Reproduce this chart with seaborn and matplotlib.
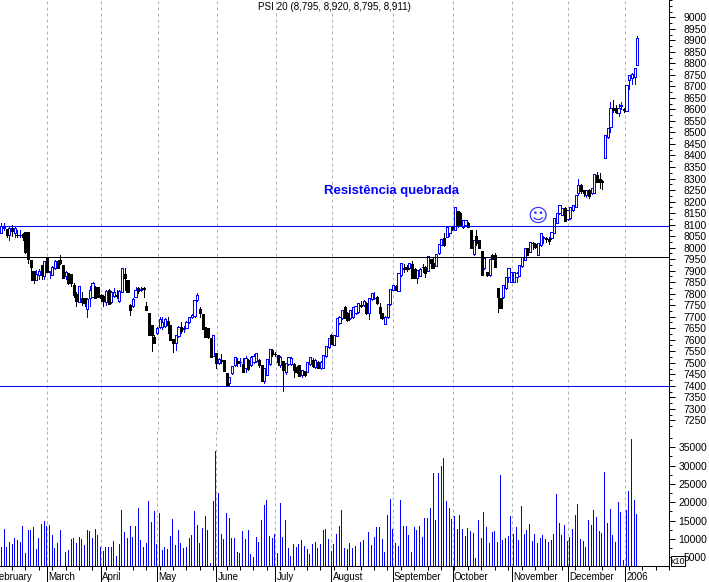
import numpy as np
import pandas as pd
import matplotlib
matplotlib.use("Agg")
import matplotlib.pyplot as plt
from matplotlib.patches import Rectangle
import seaborn as sns

opens = [8062,8085,8079,8053,8084,8062,8056,8054,8060,8066,
8066,7946,7898,7860,7880,7924,7877,7953,7893,7881,
7910,7942,7946,7924,7875,7888,7885,7838,7800,7765,
7780,7780,7733,7780,7787,7830,7830,7794,7790,7765,
7816,7765,7790,7795,7770,7809,7885,7860,7750,7745,
7787,7825,7818,7825,7746,7714,7664,7610,7630,7654,
7657,7660,7682,7664,7605,7587,7616,7655,7645,7652,
7675,7697,7703,7772,7735,7712,7655,7650,7606,7529,
7541,7498,7510,7512,7454,7413,7457,7490,7506,7505,
7494,7476,7512,7490,7505,7509,7510,7490,7422,7447,
7495,7554,7540,7533,7490,7509,7461,7495,7495,7495,
7480,7490,7447,7462,7461,7495,7512,7483,7505,7478,
7476,7529,7570,7620,7577,7618,7671,7693,7741,7715,
7695,7700,7715,7722,7750,7752,7758,7715,7775,7780,
7786,7743,7715,7668,7697,7755,7816,7833,7813,7881,
7910,7915,7910,7928,7905,7866,7878,7917,7915,7900,
7950,7932,7920,7975,8012,8040,8047,8065,8088,8077,
8160,8149,8091,8098,8108,8077,7972,8050,8033,7987,
7910,7896,7881,7968,7968,7823,7780,7784,7824,7874,
7852,7852,7872,7877,7918,7946,7997,7983,8020,8016,
7968,8011,8040,8040,8036,8040,8065,8108,8149,8142,
8170,8123,8127,8163,8178,8236,8272,8250,8228,8250,
8235,8238,8315,8300,8290,8388,8482,8525,8605,8605,
8585,8615,8600,8595,8728,8735,8742,8795]

highs = [8108,8105,8079,8095,8098,8090,8076,8075,8065,8066,
8066,7946,7898,7903,7905,7924,7942,7953,7900,7918,
7948,7948,7968,7924,7897,7888,7885,7845,7808,7835,
7808,7782,7780,7833,7850,7835,7830,7800,7795,7815,
7822,7810,7825,7815,7815,7912,7912,7860,7755,7780,
7830,7828,7830,7828,7762,7714,7664,7620,7655,7697,
7697,7695,7697,7664,7605,7620,7660,7675,7660,7680,
7700,7712,7772,7805,7740,7712,7655,7650,7606,7620,
7541,7520,7540,7512,7454,7440,7486,7526,7520,7520,
7520,7530,7515,7530,7540,7541,7515,7490,7476,7515,
7560,7560,7545,7535,7530,7509,7497,7523,7523,7497,
7485,7490,7468,7465,7503,7526,7520,7516,7508,7508,
7533,7573,7606,7625,7620,7694,7703,7729,7745,7720,
7730,7742,7746,7761,7768,7772,7762,7780,7801,7808,
7788,7758,7716,7703,7755,7819,7838,7836,7888,7931,
7930,7925,7935,7940,7910,7903,7910,7930,7920,7964,
7950,7955,7971,8016,8036,8062,8091,8094,8092,8178,
8160,8155,8120,8120,8110,8077,8033,8075,8035,7987,
7955,7896,7950,7972,7978,7823,7780,7838,7871,7910,
7895,7895,7895,7925,7958,7997,8000,8026,8024,8020,
8022,8062,8050,8045,8046,8069,8127,8149,8185,8170,
8175,8163,8175,8185,8228,8297,8275,8252,8250,8255,
8258,8320,8330,8322,8292,8489,8520,8634,8640,8620,
8622,8632,8605,8706,8750,8760,8778,8920]

lows = [8062,8075,8045,8035,8050,8045,8045,8045,8033,7975,
7935,7860,7848,7860,7862,7862,7862,7895,7866,7881,
7905,7912,7930,7870,7865,7840,7833,7787,7745,7762,
7750,7745,7700,7745,7785,7780,7785,7770,7745,7750,
7753,7760,7785,7780,7765,7809,7815,7809,7707,7740,
7785,7805,7810,7785,7729,7620,7552,7584,7625,7650,
7645,7655,7630,7599,7548,7555,7612,7628,7635,7650,
7672,7695,7700,7768,7697,7646,7612,7607,7526,7529,
7476,7495,7500,7466,7400,7403,7450,7488,7485,7488,
7461,7461,7469,7488,7500,7505,7480,7420,7411,7445,
7490,7530,7530,7490,7480,7379,7450,7490,7490,7440,
7455,7444,7440,7444,7458,7490,7480,7478,7476,7475,
7476,7525,7565,7581,7575,7615,7668,7690,7693,7682,
7690,7695,7712,7718,7740,7745,7713,7692,7772,7775,
7755,7693,7690,7668,7695,7752,7814,7816,7810,7878,
7895,7900,7905,7866,7866,7848,7875,7895,7874,7897,
7910,7910,7918,7972,8010,8007,8045,8050,8075,8077,
8090,8094,8085,8095,8088,7997,7970,8010,7997,7881,
7905,7875,7878,7950,7915,7722,7738,7782,7822,7850,
7850,7850,7850,7875,7915,7944,7968,7980,7995,8000,
7968,8008,8020,8025,8016,8038,8062,8105,8145,8140,
8117,8120,8125,8160,8175,8230,8236,8225,8220,8215,
8233,8235,8286,8258,8253,8388,8478,8500,8590,8585,
8570,8603,8590,8595,8690,8710,8712,8795]

closes = [8094,8090,8053,8084,8073,8084,8054,8054,8045,7980,
7950,7917,7860,7885,7900,7880,7942,7895,7898,7917,
7942,7912,7935,7870,7895,7848,7845,7794,7770,7833,
7765,7760,7777,7818,7848,7783,7787,7783,7770,7813,
7755,7807,7808,7790,7810,7910,7866,7809,7730,7775,
7816,7812,7822,7820,7729,7620,7620,7584,7652,7690,
7678,7692,7664,7599,7587,7620,7656,7640,7650,7678,
7698,7708,7772,7794,7715,7646,7612,7610,7526,7620,
7498,7515,7508,7466,7400,7440,7486,7526,7500,7505,
7461,7519,7475,7526,7530,7541,7490,7422,7476,7515,
7558,7540,7538,7505,7526,7468,7497,7523,7520,7468,
7460,7444,7468,7445,7503,7526,7485,7512,7476,7505,
7533,7573,7606,7581,7620,7694,7700,7729,7693,7686,
7728,7740,7746,7761,7748,7770,7715,7780,7801,7782,
7758,7717,7695,7700,7755,7819,7836,7816,7888,7931,
7908,7905,7931,7866,7866,7903,7905,7915,7890,7964,
7935,7910,7971,8016,8036,8010,8091,8094,8080,8178,
8092,8094,8120,8120,8088,7997,8033,8018,7997,7881,
7955,7882,7950,7950,7915,7787,7738,7838,7871,7910,
7893,7892,7890,7925,7958,7997,7968,8026,8018,8002,
8022,8062,8048,8036,8030,8069,8127,8149,8185,8170,
8117,8163,8175,8185,8228,8272,8245,8235,8250,8225,
8258,8320,8286,8285,8286,8489,8518,8605,8598,8590,
8605,8620,8596,8706,8750,8755,8778,8911]

volumes = [7900,12700,7900,9300,8600,10300,9700,9300,13500,6200,
12500,12500,13300,7300,10300,14100,14900,13500,13800,11100,
7500,8900,12500,11100,6500,7000,10000,10300,8900,10500,
10000,8400,12500,12200,10300,12700,11100,7800,6700,7800,
7800,7800,9500,5400,8600,17900,11900,10300,13500,10500,
13500,18500,9700,7800,8900,20400,14600,17600,8600,17100,
7000,7800,7300,10800,15500,8400,12500,8900,7500,7800,
10300,11100,17600,13800,8900,13000,16300,12500,3400,20400,
34000,22600,11400,10000,17100,15700,10300,10300,6500,
6200,12200,10000,12500,5900,5100,10500,9200,15200,19300,
20600,10800,10300,11400,6200,19800,10500,15200,7500,5400,
8600,7800,8600,9700,8100,7300,5900,8600,9200,7500,
8600,12500,12700,10000,6700,8600,11400,13500,17900,7500,
7300,8900,7500,8100,0,9200,9700,11600,11900,8400,
10500,13300,13300,10000,6500,16600,20900,12700,8900,8100,
20600,13500,13500,11100,6500,13300,12500,13500,10500,15700,
15700,18500,28000,15200,28000,29900,32100,20400,18500,15500,
16300,12700,16600,12700,10800,13000,
12200,11600,4800,15200,10300,17400,13300,8900,11900,12200,
9200,27500,9700,10300,10800,16300,11400,13300,9700,19000,
11400,12500,14100,9500,11400,8900,10300,11100,10000,9200,
9700,11400,22300,14400,11100,13800,9500,10500,12700,16600,
19600,10000,9500,7800,15200,13800,17900,16000,12200,11600,
28300,14400,18200,11100,9200,20100,17400,4300,17900,23100,
37300,20600,16800]

month_names = ["February", "March", "April", "May", "June", "July", "August",
               "September", "October", "November", "December", "2006"]
month_starts = [-5.0, 17.15, 37.2, 58.2, 80.2, 102.2, 123.1, 145.9, 168.3, 190.3, 211.2, 232.5]
resistance_levels = [8093, 7397]
support_level = 7958
price_labels = list(range(7250, 9001, 50))
volume_labels = list(range(5000, 35001, 5000))

W, H = 709, 582
STEP = 2.6834
sns.set_theme(style="white")
plt.rcParams["font.family"] = ["Liberation Sans", "DejaVu Sans"]
plt.rcParams["axes.linewidth"] = 0.72

fig = plt.figure(figsize=(W / 100, H / 100), dpi=100, facecolor="white")
AX_R = 669
ax_p = fig.add_axes([0, 1 - 430 / H, AX_R / W, 430 / H])
ax_v = fig.add_axes([0, 1 - 566 / H, AX_R / W, 136 / H])

days = np.arange(len(closes))
xlim = (-1.33 / STEP, (AX_R - 1.33) / STEP)
BLUE = "#0000ff"

# volume
frame = pd.DataFrame({"day": days, "volume": volumes})
sns.barplot(data=frame, x="day", y="volume", native_scale=True, color=BLUE,
            saturation=1, width=0.37, linewidth=0, antialiased=False, ax=ax_v, zorder=3)

# candles
o, h, l, c = map(np.array, (opens, highs, lows, closes))
up = c >= o
for mask, col, face in ((up, BLUE, "white"), (~up, "black", "black")):
    ax_p.vlines(days[mask], l[mask], h[mask], color=col, lw=0.72, antialiased=False, zorder=3)
    ax_p.bar(days[mask], np.abs(c - o)[mask], bottom=np.minimum(o, c)[mask], width=0.8,
             facecolor=face, edgecolor=col, linewidth=0.72, antialiased=False, zorder=4)

for lv in resistance_levels:
    ax_p.axhline(lv, color=BLUE, lw=0.72, antialiased=False, zorder=5)
ax_p.axhline(support_level, color="black", lw=0.72, antialiased=False, zorder=5)

for ax in (ax_p, ax_v):
    ax.vlines(month_starts[1:], 0, 1, transform=ax.get_xaxis_transform(), color="#b0b0b0",
              lw=0.72, linestyles=(0, (3, 3)), zorder=0.5)
    ax.set_xlim(*xlim)
    ax.set_xlabel("")
    ax.set_ylabel("")
    ax.set_facecolor("none")
    ax.yaxis.tick_right()
    for s in ("top", "left", "bottom"):
        ax.spines[s].set_visible(False)
    ax.spines["right"].set_visible(True)
    ax.spines["right"].set_color("black")

ax_p.set_ylim(9075.1 - 430 / 0.2303, 9075.1)
ax_v.set_ylim(2636, 2636 + 136 / 0.003667)

ax_p.set_xticks([])
ax_p.set_yticks(price_labels)
ax_p.set_yticks(np.arange(7225, 9076, 25), minor=True)
ax_v.set_yticks(volume_labels)
ax_v.set_yticks(np.arange(5000, 40000, 2500), minor=True)
for ax in (ax_p, ax_v):
    ax.tick_params(axis="y", which="major", right=True, length=4.3, width=0.72, pad=23,
                   labelsize=7.5, labelcolor="black", color="black", labelright=True)
    ax.tick_params(axis="y", which="minor", right=True, length=2.2, width=0.72, color="black")
    for t in ax.get_yticklabels():
        t.set_ha("right")

# time axis
ax_v.spines["bottom"].set_visible(True)
ax_v.spines["bottom"].set_color("black")
weekly = np.arange(4, 250, 5)
ax_v.set_xticks(weekly)
ax_v.set_xticklabels([])
ax_v.tick_params(axis="x", which="major", bottom=True, length=2.9, width=0.72, color="black")
ax_v.vlines(month_starts[1:], -15 / 136, 0, transform=ax_v.get_xaxis_transform(),
            color="black", lw=0.72, clip_on=False, antialiased=False)
for name, m in zip(month_names, month_starts):
    if name == "February":
        ax_v.text((32 - 1.33) / STEP, -11 / 136, name, transform=ax_v.get_xaxis_transform(),
                  ha="right", va="center", fontsize=7, color="black")
    else:
        ax_v.text(m + 0.5, -11 / 136, name, transform=ax_v.get_xaxis_transform(),
                  ha="left", va="center", fontsize=7, color="black")

# texts
fig.text(334 / W, 1 - 7.5 / H, "PSI 20 (8,795, 8,920, 8,795, 8,911)", ha="center", va="center",
         fontsize=7.1, color="black")
fig.text(391 / W, 1 - 191 / H, "Resistência quebrada", ha="center", va="center",
         fontsize=9.45, fontweight="bold", color=BLUE)
fig.text(538 / W, 1 - 216 / H, "\u263A", ha="center", va="center", fontsize=14,
         color="#3030ff", family=["DejaVu Sans"])

fig.add_artist(Rectangle((670.7 / W, 1 - 566 / H), 14.3 / W, 10 / H, transform=fig.transFigure,
                         facecolor="white", edgecolor="black", lw=0.72, zorder=6))
fig.text(678 / W, 1 - 561 / H, "x10", ha="center", va="center", fontsize=6.5, color="black", zorder=7)

fig.savefig("out.png", dpi=100, facecolor="white")
